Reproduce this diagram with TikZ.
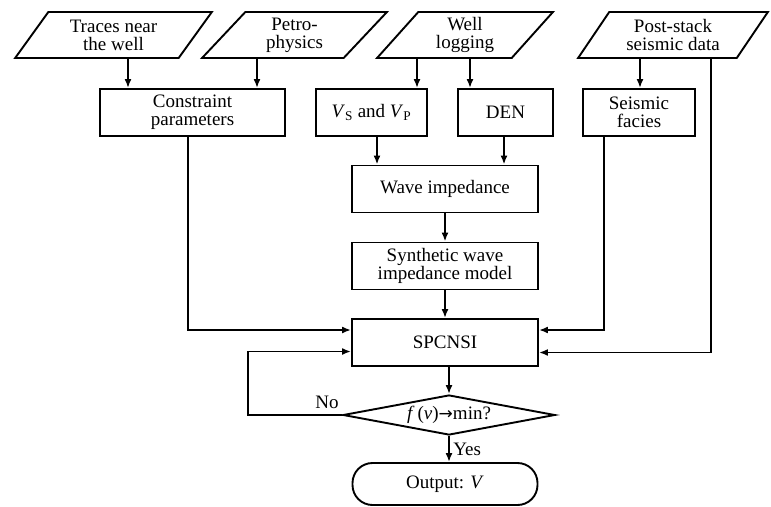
\documentclass[tikz,border=0pt]{standalone}
\usepackage{fontspec}
\setmainfont{Liberation Serif}
\newfontfamily\arrowfont{DejaVu Sans}
\usepackage{tikz}
\usetikzlibrary{shapes.geometric, arrows.meta}
\tikzstyle{arrow} = [->,>={Latex[length=9pt,width=7pt]}]
\tikzstyle{dataio} = [trapezium, trapezium left angle=54, trapezium right angle=126, trapezium stretches=true, draw, minimum height=46pt, inner sep=0pt, align=center]
\tikzstyle{process} = [rectangle, draw, minimum height=47pt, inner sep=0pt, align=center]
\tikzstyle{decision} = [diamond, draw, aspect=5, minimum width=212pt, minimum height=40pt, inner sep=0pt]
\tikzstyle{term} = [rectangle, draw, rounded corners=20pt, minimum width=185pt, minimum height=42pt]

\begin{document}
\begin{tikzpicture}[x=1pt,y=-1pt,line width=1.9pt,font=\fontsize{19}{18}\selectfont]
    \useasboundingbox (0,0) rectangle (771,506);
    % input data
    \node[dataio, minimum width=197pt] (trc) at (113.5,35) {Traces near\\the well};
    \node[dataio, minimum width=185pt] (pet) at (294.5,35) {Petro-\\physics};
    \node[dataio, minimum width=176pt] (wlog) at (465,35) {Well\\logging};
    \node[dataio, minimum width=190pt] (pss) at (673,35) {Post-stack\\seismic data};
    % second row
    \node[process, minimum width=185pt] (cpa) at (192.5,112.5) {Constraint\\parameters};
    \node[process, minimum width=111pt] (vsp) at (371.5,112.5) {\textit{V}\textsubscript{S} and \textit{V}\textsubscript{P}};
    \node[process, minimum width=95pt] (den) at (505.5,112.5) {DEN};
    \node[process, minimum width=112pt] (sfa) at (639,112.5) {Seismic\\facies};
    % main column
    \node[process, minimum width=186pt] (wim) at (445,189) {Wave impedance};
    \node[process, minimum width=186pt] (syn) at (445,266) {Synthetic wave\\impedance model};
    \node[process, minimum width=186pt] (spc) at (445,342.5) {SPCNSI};
    \node[decision] (dec) at (449,415) {\textit{f}\,(\textit{v}){\arrowfont\fontsize{17}{17}\selectfont →}min?};
    \node[term] (out) at (445,484) {Output: \textit{V}};

    \draw[arrow] ([xshift=14.5pt]trc.south) -- ([xshift=-64.5pt]cpa.north);
    \draw[arrow] ([xshift=-37.5pt]pet.south) -- ([xshift=64.5pt]cpa.north);
    \draw[arrow] ([xshift=-48pt]wlog.south) -- ([xshift=45.5pt]vsp.north);
    \draw[arrow] ([xshift=5pt]wlog.south) -- ([xshift=-35.5pt]den.north);
    \draw[arrow] ([xshift=-33pt]pss.south) -- ([xshift=1pt]sfa.north);
    \draw[arrow] ([xshift=5.5pt]vsp.south) -- ([xshift=-68pt]wim.north);
    \draw[arrow] ([xshift=-1.5pt]den.south) -- ([xshift=59pt]wim.north);
    \draw[arrow] (wim) -- (syn);
    \draw[arrow] (syn) -- (spc);
    % side inputs of SPCNSI
    \draw[arrow] ([xshift=-4.5pt]cpa.south) |- ([yshift=12.5pt]spc.west);
    \draw[arrow] ([xshift=-35pt]sfa.south) |- ([yshift=12.5pt]spc.east);
    \draw[arrow] ([xshift=38pt]pss.south) |- ([yshift=-10pt]spc.east);
    \draw[arrow] ([xshift=4pt]spc.south) -- (dec.north);
    % loop back
    \draw[arrow] (dec.west) -- node[pos=0.16, above=2pt] {No} ++(-94,0) |- ([yshift=-9pt]spc.west);
    \draw[arrow] (dec.south) -- node[right, pos=0.5] {Yes} (dec.south |- out.north);
\end{tikzpicture}
\end{document}
